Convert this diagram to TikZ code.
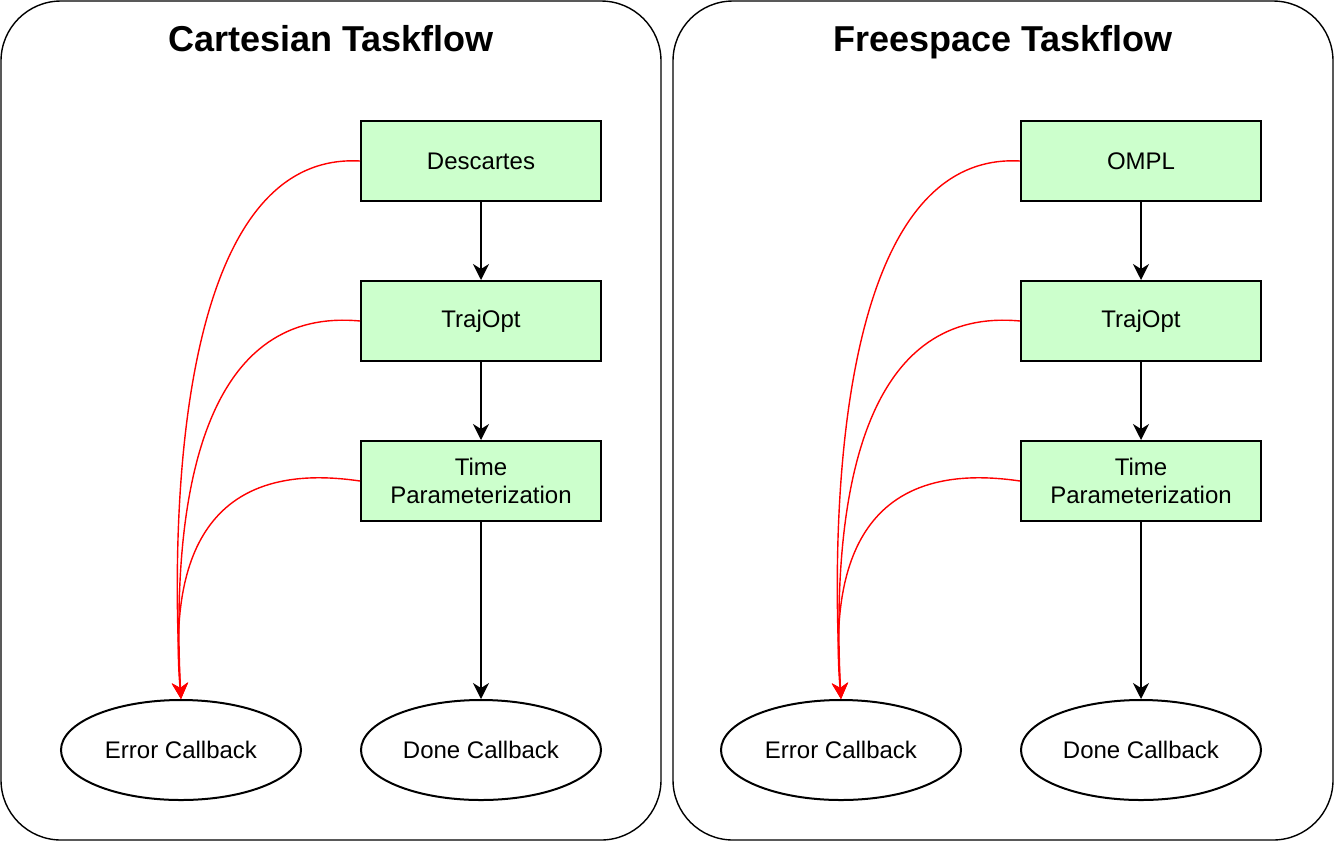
\documentclass[tikz,border=0pt]{standalone}
\usepackage{fontspec}
\setmainfont{Liberation Sans}
\usepackage{tikz}
\usetikzlibrary{positioning}
\usetikzlibrary{shapes.geometric,arrows.meta}
\definecolor{taskGreen}{HTML}{CCFFCC}
\definecolor{errRed}{HTML}{FF0000}
\tikzset{
    container/.style={draw=black, line width=0.7pt, rounded corners=30pt},
    taskBox/.style={draw=black, line width=1pt, fill=taskGreen, minimum width=120pt, minimum height=40pt, align=center, font=\fontsize{12}{14}\selectfont, inner sep=0pt},
    callback/.style={draw=black, line width=1pt, ellipse, minimum width=120pt, minimum height=50pt, inner sep=0pt, font=\fontsize{12}{14}\selectfont},
    flowEdge/.style={draw=black, line width=0.8pt, -{Stealth[length=8pt,width=8pt,inset=2.5pt]}},
    errEdge/.style={draw=errRed, line width=0.7pt, -{Stealth[length=8pt,width=8pt,inset=2.5pt]}},
    title/.style={font=\fontsize{18}{21}\bfseries\selectfont, text height=13pt, text depth=0pt}
}
% #1 title, #2 first task, #3 shift of the frame
\tikzset{
    pics/taskflow/.style n args={3}{code={
		\draw[container] (#3,0) rectangle (660+#3,839);
		\node[title] (-title) at (330+#3,37) {#1};
		\node[taskBox] (-first) at (480,160) {#2};
		\node[taskBox] (-traj) at (480,320) {TrajOpt};
		\node[taskBox] (-time) at (480,480) {Time\\Parameterization};
		\node[callback] (-err) at (180,749) {Error Callback};
		\node[callback] (-done) at (480,749) {Done Callback};
		\draw[flowEdge] (-first) -- (-traj);
		\draw[flowEdge] (-traj) -- (-time);
		\draw[flowEdge] (-time) -- (-done);
		\draw[errEdge] (-first.west) .. controls (180,150) and (168,500) .. (-err.north);
		\draw[errEdge] (-traj.west) .. controls (200,305) and (170,500) .. (-err.north);
		\draw[errEdge] (-time.west) .. controls (190,455) and (170,580) .. (-err.north);
	}}
}
\begin{document}
\begin{tikzpicture}[x=0.5pt,y=-0.5pt]
        \useasboundingbox (0,0) rectangle (1334,842);
        \pic (cart) at (1,1) {taskflow={Cartesian Taskflow}{Descartes}{0}};
        \pic (free) at (661,1) {taskflow={Freespace Taskflow}{OMPL}{12}};
      \end{tikzpicture}
\end{document}
